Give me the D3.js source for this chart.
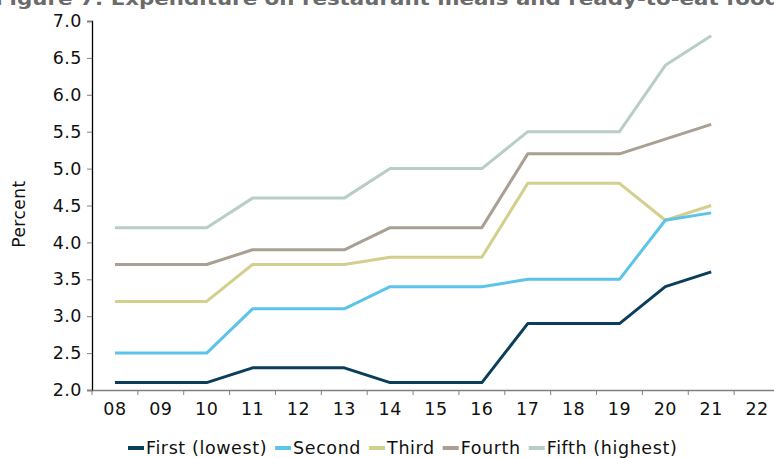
<!DOCTYPE html>
<html><head><meta charset="utf-8">
<script src="https://cdn.jsdelivr.net/npm/d3@7"></script>
<style>body{margin:0;background:#fff}svg{display:block}text{font-family:"DejaVu Sans",Verdana,sans-serif}</style>
</head><body><svg id="c" width="774" height="458"></svg>
<script>
const years = ["08","09","10","11","12","13","14","15","16","17","18","19","20","21","22"];
const seriesNames = ["First (lowest)","Second","Third","Fourth","Fifth (highest)"];
const seriesColors = ["#0b3e5d","#5cc4e9","#d5cf8d","#a99f92","#b8cec5"];
const first  = [2.1,2.1,2.1,2.3,2.3,2.3,2.1,2.1,2.1,2.9,2.9,2.9,3.4,3.6];
const second = [2.5,2.5,2.5,3.1,3.1,3.1,3.4,3.4,3.4,3.5,3.5,3.5,4.3,4.4];
const third  = [3.2,3.2,3.2,3.7,3.7,3.7,3.8,3.8,3.8,4.8,4.8,4.8,4.3,4.5];
const fourth = [3.7,3.7,3.7,3.9,3.9,3.9,4.2,4.2,4.2,5.2,5.2,5.2,5.4,5.6];
const fifth  = [4.2,4.2,4.2,4.6,4.6,4.6,5.0,5.0,5.0,5.5,5.5,5.5,6.4,6.8];
const yTicks = [2.0,2.5,3.0,3.5,4.0,4.5,5.0,5.5,6.0,6.5,7.0];
const title = "Figure 7: Expenditure on restaurant meals and ready-to-eat food";
const yLabel = "Percent";

const svg = d3.select("#c");
const x = d3.scaleBand().domain(years).range([92, 780]);
const y = d3.scaleLinear().domain([2, 7]).range([390, 21]);

svg.append("text").attr("x", -5).attr("y", 5).attr("font-size", 18).attr("font-weight", "bold")
  .attr("fill", "#6b6b6b").attr("textLength", 785).attr("lengthAdjust", "spacingAndGlyphs").text(title);

// y axis
const ya = svg.append("g").attr("transform", "translate(92,0)")
  .call(d3.axisLeft(y).tickValues(yTicks).tickFormat(d3.format(".1f")).tickSize(5).tickPadding(5));
ya.select(".domain").attr("stroke", "#000").attr("stroke-width", 1.3);
ya.selectAll(".tick line").attr("stroke", "#808080");
ya.selectAll("text").attr("font-size", 17.5).attr("letter-spacing", 0.5).attr("fill", "#111").attr("font-family", "DejaVu Sans");

// x axis
const xa = svg.append("g").attr("transform", "translate(0,390)")
  .call(d3.axisBottom(x).tickSize(0).tickPadding(13));
xa.select(".domain").attr("stroke", "#808080").attr("stroke-width", 1.3);
xa.selectAll("text").attr("font-size", 17.5).attr("letter-spacing", 0.5).attr("fill", "#111").attr("font-family", "DejaVu Sans");
xa.selectAll(".bt").data(years).enter().append("line")
  .attr("x1", d => x(d)).attr("x2", d => x(d)).attr("y1", 0).attr("y2", 5).attr("stroke", "#808080");

svg.append("text").attr("transform", "translate(25,214) rotate(-90)").attr("text-anchor", "middle")
  .attr("font-size", 17).attr("letter-spacing", 0.5).attr("fill", "#111").text(yLabel);

const allSeries = [first, second, third, fourth, fifth];
const line = d3.line().x((d, i) => x(years[i]) + x.bandwidth() / 2).y(d => y(d));
[4,3,2,1,0].forEach(k => {
  svg.append("path").datum(allSeries[k]).attr("d", line).attr("fill", "none")
    .attr("stroke", seriesColors[k]).attr("stroke-width", 3).attr("stroke-linejoin", "round");
});

// legend
const lg = svg.append("g").attr("transform", "translate(128,448)");
let lx = 0;
seriesNames.forEach((n, i) => {
  const g = lg.append("g").attr("transform", `translate(${lx},0)`);
  g.append("line").attr("x1", 0).attr("x2", 16).attr("y1", 0).attr("y2", 0)
    .attr("stroke", seriesColors[i]).attr("stroke-width", 4);
  const t = g.append("text").attr("x", 18).attr("y", 6).attr("font-size", 17.5)
    .attr("letter-spacing", 0.6).attr("fill", "#111").text(n);
  lx += 18 + t.node().getComputedTextLength() + 8;
});
</script></body></html>
